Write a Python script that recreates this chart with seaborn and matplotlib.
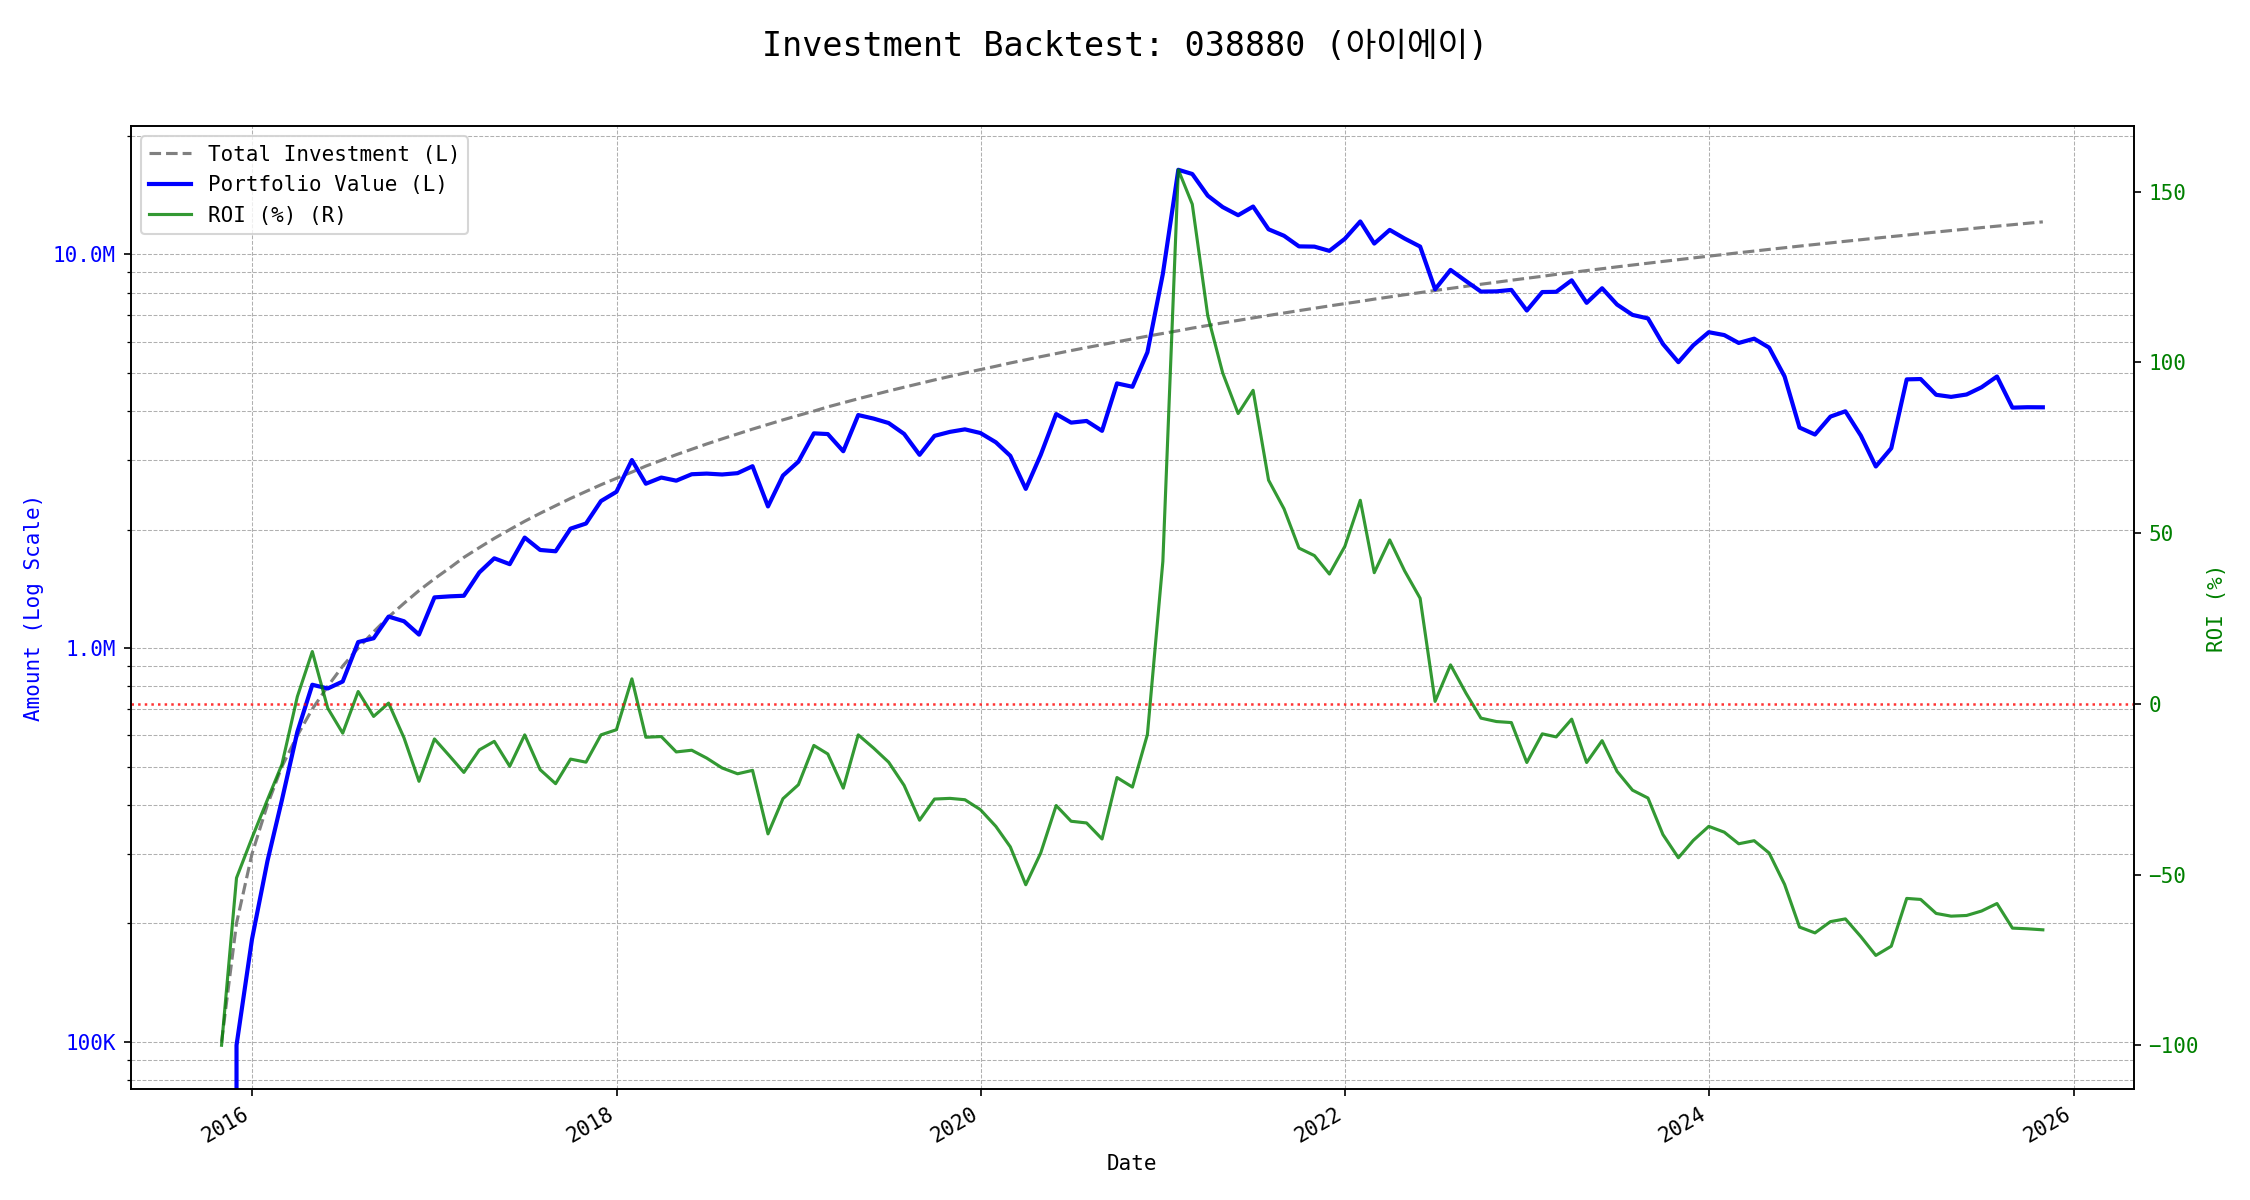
import matplotlib
matplotlib.use("Agg")
import matplotlib.pyplot as plt
import matplotlib.ticker as mticker
import seaborn as sns
import pandas as pd
import numpy as np

# monthly backtest, 038880, month-end from 2015-10 to 2025-10
start_date = "2015-10-31"
monthly_contribution = 100000

# ROI (%), one value per month
roi_pct = [
	-100.0, -51.0, -39.3, -28.1, -17.8, 2.1, 15.3, -1.3, -8.6, 3.6,
	-3.7, 0.2, -10.0, -22.7, -10.3, -15.4, -20.1, -13.5, -11.0, -18.3,
	-9.1, -19.3, -23.4, -16.2, -17.1, -9.1, -7.6, 7.3, -9.8, -9.6,
	-14.1, -13.6, -15.9, -18.8, -20.5, -19.5, -38.1, -27.8, -23.7, -12.2,
	-14.7, -24.7, -9.1, -13.0, -17.1, -23.9, -34.1, -27.9, -27.7, -28.1,
	-31.0, -35.9, -41.9, -53.0, -43.7, -29.8, -34.4, -34.9, -39.6, -21.6,
	-24.4, -9.0, 41.7, 156.4, 146.3, 113.7, 96.9, 85.0, 91.8, 65.5,
	57.1, 45.6, 43.4, 38.0, 46.1, 59.6, 38.4, 48.0, 38.9, 30.9,
	0.7, 11.4, 3.1, -4.2, -5.2, -5.5, -17.2, -8.8, -9.7, -4.5,
	-17.2, -10.8, -19.8, -25.3, -27.6, -38.3, -45.1, -40.0, -35.9, -37.6,
	-41.0, -40.1, -43.7, -52.9, -65.4, -67.1, -63.8, -63.0, -68.2, -73.7,
	-71.0, -57.0, -57.3, -61.4, -62.2, -62.0, -60.7, -58.5, -65.7, -65.9,
	-66.2,
]


def amount_fmt(x, pos):
	if x >= 1e6:
		return f"{x / 1e6:.1f}M"
	return f"{x / 1e3:.0f}K"


def build_frame():
	dates = pd.date_range(start_date, periods=len(roi_pct), freq="ME")
	invested = np.cumsum(np.full(len(roi_pct), monthly_contribution, dtype=float))
	roi = np.array(roi_pct)
	value = invested * (1 + roi / 100)
	return pd.DataFrame({"Date": dates, "Invested": invested, "Value": value, "ROI": roi})


def plot_backtest(df):
	plt.rcParams["font.family"] = ["DejaVu Sans Mono", "Noto Sans CJK KR"]
	plt.rcParams["font.size"] = 10

	fig, ax = plt.subplots(figsize=(15, 8), dpi=150)
	fig.subplots_adjust(left=0.058, right=0.9484, bottom=0.0925, top=0.895)

	# left axis: amounts on log scale
	sns.lineplot(data=df, x="Date", y="Invested", ax=ax, color="gray", linestyle="--",
		linewidth=1.5, label="Total Investment (L)", legend=False)
	sns.lineplot(data=df, x="Date", y="Value", ax=ax, color="blue", linewidth=2,
		label="Portfolio Value (L)", legend=False)
	ax.set_yscale("log")
	ax.yaxis.set_major_formatter(mticker.FuncFormatter(amount_fmt))
	ax.set_ylabel("Amount (Log Scale)", color="blue")
	ax.set_xlabel("Date")
	ax.tick_params(axis="y", labelcolor="blue")
	ax.grid(True, which="both", linestyle="--", linewidth=0.5, color="#b0b0b0")

	# right axis: ROI
	ax2 = ax.twinx()
	sns.lineplot(data=df, x="Date", y="ROI", ax=ax2, color="green", alpha=0.8,
		linewidth=1.5, label="ROI (%) (R)", legend=False)
	ax2.axhline(0, color="red", linestyle=":", linewidth=1.2, alpha=0.8)
	ax2.set_ylabel("ROI (%)", color="green")
	ax2.tick_params(axis="y", labelcolor="green")

	plt.setp(ax.get_xticklabels(), rotation=30, ha="right")

	h1, l1 = ax.get_legend_handles_labels()
	h2, l2 = ax2.get_legend_handles_labels()
	ax.legend(h1 + h2, l1 + l2, loc="upper left")

	fig.suptitle("Investment Backtest: 038880 (아이에이)", fontsize=16, y=0.975)
	fig.savefig("out.png")


if __name__ == "__main__":
	plot_backtest(build_frame())
